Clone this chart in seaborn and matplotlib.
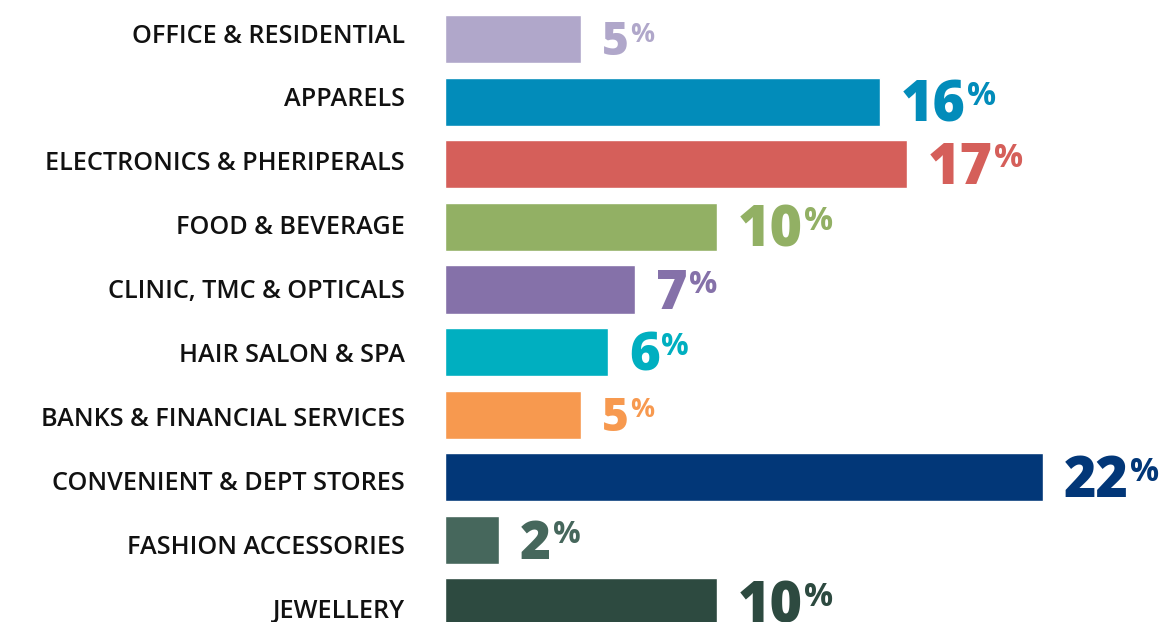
import matplotlib

matplotlib.use("Agg")
import matplotlib.pyplot as plt
import pandas as pd
import seaborn as sns

categories = [
    "OFFICE & RESIDENTIAL",
    "APPARELS",
    "ELECTRONICS & PHERIPERALS",
    "FOOD & BEVERAGE",
    "CLINIC, TMC & OPTICALS",
    "HAIR SALON & SPA",
    "BANKS & FINANCIAL SERVICES",
    "CONVENIENT & DEPT STORES",
    "FASHION ACCESSORIES",
    "JEWELLERY",
]
shares = [5, 16, 17, 10, 7, 6, 5, 22, 2, 10]
colors = [
    "#B0A7CA", "#028CBA", "#D55F5A", "#92B064", "#8571A9",
    "#00AFC0", "#F7994F", "#023778", "#46675C", "#2D4A40",
]
# the two 5% labels are set smaller in the original
num_sizes = [33, 40, 40, 40, 39, 38, 33, 40, 38, 40]

sns.set_style("white")
plt.rcParams["font.family"] = ["Open Sans", "DejaVu Sans"]

df = pd.DataFrame({"category": categories, "share": shares})

fig = plt.figure(figsize=(11.65, 6.22), dpi=100)
ax = fig.add_axes([445 / 1165, 0, 1 - 445 / 1165, 1])

sns.barplot(
    data=df, x="share", y="category", hue="category",
    palette=colors, legend=False, width=0.77, orient="h",
    saturation=1, ax=ax,
)

ax.set_xlim(0, 26.5)
ax.set_ylim(9.31, -0.623)
sns.despine(ax=ax, left=True, bottom=True)
ax.set_xlabel("")
ax.set_ylabel("")
ax.set_xticks([])
ax.set_yticks([])

CAP = 0.714  # cap height / em for Open Sans
lab_fs = 18.2
for i, name in enumerate(categories):
    # category labels sit on a slightly wider pitch than the bars
    shift_px = -5.5 + 1.3 * i
    ax.annotate(
        name, xy=(0, i), xytext=(-29, -shift_px * 0.72 - CAP * lab_fs / 2),
        textcoords="offset points", ha="right", va="baseline",
        fontsize=lab_fs, fontweight="semibold", color="#111111",
        annotation_clip=False,
    )

# value labels: big number + small superscript percent
for i, (v, c, fs) in enumerate(zip(shares, colors, num_sizes)):
    num = ax.annotate(
        str(v), xy=(v, i), xytext=(15, -CAP * fs / 2), textcoords="offset points",
        ha="left", va="baseline", fontsize=fs, fontweight="heavy", color=c,
        annotation_clip=False,
    )
    pfs = fs * 0.58
    ax.annotate(
        "%", xy=(1, i), xycoords=(num, "data"),
        xytext=(1, CAP * fs / 2 - CAP * pfs), textcoords="offset points",
        ha="left", va="baseline", fontsize=pfs, fontweight="bold", color=c,
        annotation_clip=False,
    )

fig.savefig("out.png", dpi=100)
